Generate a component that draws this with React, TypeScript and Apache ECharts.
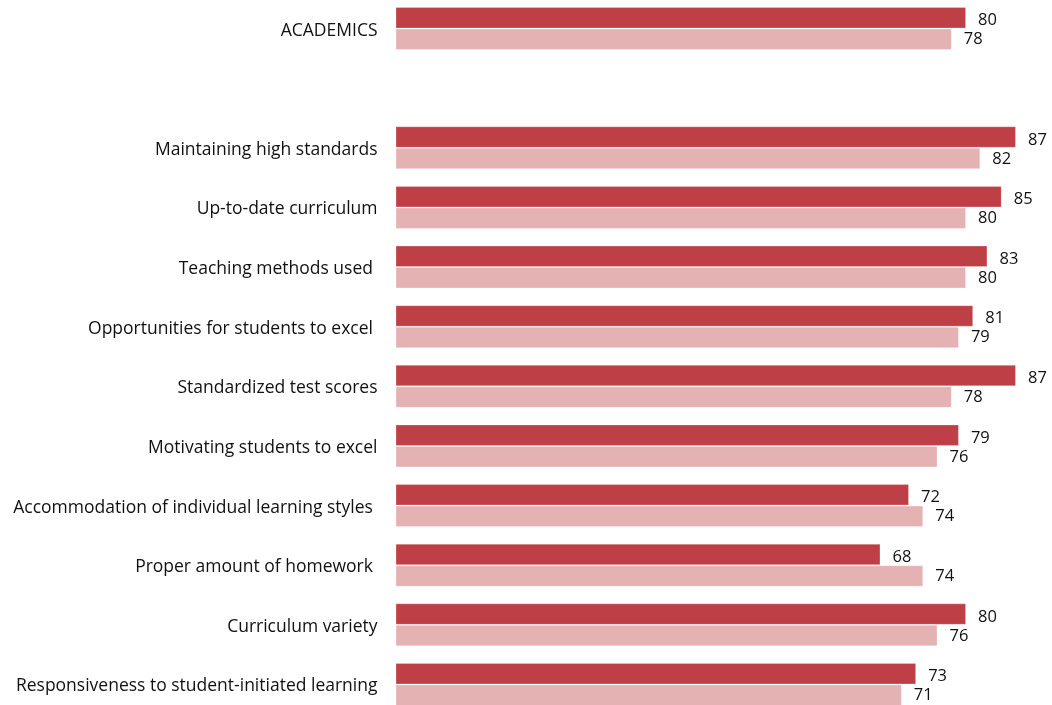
import React, { useEffect, useRef } from "react";
import * as echarts from "echarts";

const categories = [
  "ACADEMICS",
  "",
  "Maintaining high standards",
  "Up-to-date curriculum",
  "Teaching methods used ",
  "Opportunities for students to excel ",
  "Standardized test scores",
  "Motivating students to excel",
  "Accommodation of individual learning styles ",
  "Proper amount of homework ",
  "Curriculum variety",
  "Responsiveness to student-initiated learning",
];
const seriesA = [80, null, 87, 85, 83, 81, 87, 79, 72, 68, 80, 73];
const seriesB = [78, null, 82, 80, 80, 79, 78, 76, 74, 74, 76, 71];

const FONT = "Open Sans";

export default function App() {
  const ref = useRef<HTMLDivElement>(null);
  useEffect(() => {
    if (!ref.current) return;
    const chart = echarts.init(ref.current, null, { renderer: "svg" });
    const label = {
      show: true,
      position: "right",
      distance: 12,
      offset: [0, 1],
      fontSize: 16.5,
      lineHeight: 15,
      fontFamily: FONT,
      color: "#111",
    };
    chart.setOption({
      animation: false,
      grid: { left: 395.5, top: 0.7, width: 713.2, height: 715.6, containLabel: false },
      xAxis: {
        type: "value",
        min: 0,
        max: 100,
        show: false,
      },
      yAxis: {
        type: "category",
        data: categories,
        inverse: true,
        axisLine: { show: false },
        axisTick: { show: false },
        splitLine: { show: false },
        axisLabel: {
          fontSize: 17.5,
          fontFamily: FONT,
          color: "#111",
          margin: 18,
          padding: [3, 0, 0, 0],
        },
      },
      series: [
        {
          type: "bar",
          data: seriesA,
          barWidth: 21.5,
          barGap: "0%",
          itemStyle: { color: "#BE4046", borderColor: "rgba(255,255,255,0.25)", borderWidth: 1 },
          label,
        },
        {
          type: "bar",
          data: seriesB,
          barWidth: 21.5,
          barGap: "0%",
          itemStyle: { color: "#E5B2B3", borderColor: "rgba(255,255,255,0.3)", borderWidth: 1 },
          label: { ...label, offset: [0, -1.5] },
        },
      ],
    });
    return () => chart.dispose();
  }, []);
  return (
    <div style={{ position: "fixed", left: 0, top: 0, width: 1052, height: 705, overflow: "hidden" }}>
      <div
        ref={ref}
        style={{ position: "absolute", left: 0, top: -2, width: 1120, height: 720 }}
      />
    </div>
  );
}
